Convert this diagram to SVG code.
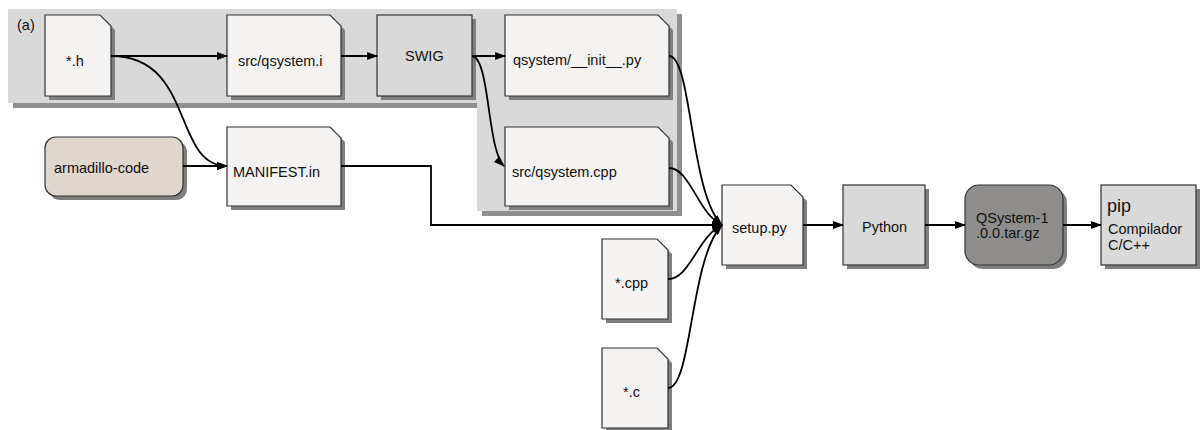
<svg xmlns="http://www.w3.org/2000/svg" width="1200" height="430" viewBox="0 0 1200 430">
<style>
text{font-family:"Liberation Sans",Arial,sans-serif;font-size:14.5px;fill:#111}
.sh{fill:#7f7f7f;stroke:none}
.doc{fill:#f4f3f1;stroke:#333;stroke-width:1.2}
.proc{fill:#d9d9d9;stroke:#333;stroke-width:1.2}
.edge{fill:none;stroke:#000;stroke-width:1.8}
</style>
<defs>
<marker id="ah" markerUnits="userSpaceOnUse" markerWidth="11" markerHeight="8" refX="10" refY="4" orient="auto">
<path d="M0,0 L11,4 L0,8 z" fill="#000"/>
</marker>
</defs>
<g id="group-a">
<path d="M13,14 H682 V216 H482 V108 H13 Z" fill="#8f8f8f"/>
<path d="M8,9 H677 V211 H477 V103 H8 Z" fill="#d9d9d9"/>
<text x="17" y="30">(a)</text>
</g>
<g id="n-h">
<path class="sh" d="M49,19 H104 L115,30 V100 H49 Z"/>
<path class="doc" d="M45,15 H100 L111,26 V96 H45 Z"/>
<text x="66" y="66">*.h</text>
</g>
<g id="n-qsi">
<path class="sh" d="M231,19 H334 L345,30 V100 H231 Z"/>
<path class="doc" d="M227,15 H330 L341,26 V96 H227 Z"/>
<text x="238" y="66">src/qsystem.i</text>
</g>
<g id="n-swig">
<rect class="sh" x="381" y="19" width="95" height="81"/>
<rect class="proc" x="377" y="15" width="95" height="81"/>
<text x="405" y="61">SWIG</text>
</g>
<g id="n-init">
<path class="sh" d="M509,19 H662 L673,30 V100 H509 Z"/>
<path class="doc" d="M505,15 H658 L669,26 V96 H505 Z"/>
<text x="513" y="65">qsystem/__init__.py</text>
</g>
<g id="n-cpp2">
<path class="sh" d="M509,131 H662 L673,142 V210 H509 Z"/>
<path class="doc" d="M505,127 H658 L669,138 V206 H505 Z"/>
<text x="512" y="177">src/qsystem.cpp</text>
</g>
<g id="n-arma">
<rect class="sh" x="49" y="141" width="138" height="59" rx="11"/>
<rect x="45" y="137" width="138" height="59" rx="11" fill="#dfd6cc" stroke="#333" stroke-width="1.2"/>
<text x="54" y="173">armadillo-code</text>
</g>
<g id="n-manifest">
<path class="sh" d="M231,131 H334 L345,142 V210 H231 Z"/>
<path class="doc" d="M227,127 H330 L341,138 V206 H227 Z"/>
<text x="233" y="177">MANIFEST.in</text>
</g>
<g id="n-setup">
<path class="sh" d="M726,189 H795 L807,201 V269 H726 Z"/>
<path class="doc" d="M722,185 H791 L803,197 V265 H722 Z"/>
<text x="732" y="233">setup.py</text>
</g>
<g id="n-python">
<rect class="sh" x="847" y="189" width="82" height="80"/>
<rect class="proc" x="843" y="185" width="82" height="80"/>
<text x="862" y="232">Python</text>
</g>
<g id="n-qsystem">
<rect class="sh" x="969" y="189" width="98" height="80" rx="14"/>
<rect x="965" y="185" width="98" height="80" rx="14" fill="#8e8d8b" stroke="#333" stroke-width="1.2"/>
<text x="976" y="223">QSystem-1</text>
<text x="976" y="238">.0.0.tar.gz</text>
</g>
<g id="n-pip">
<rect class="sh" x="1105" y="189" width="95" height="80"/>
<rect class="proc" x="1101" y="185" width="95" height="80"/>
<text x="1107" y="212" style="font-size:18px">pip</text>
<text x="1108" y="234">Compilador</text>
<text x="1108" y="250">C/C++</text>
</g>
<g id="n-cpp">
<path class="sh" d="M606,243 H661 L672,254 V323 H606 Z"/>
<path class="doc" d="M602,239 H657 L668,250 V319 H602 Z"/>
<text x="615" y="288">*.cpp</text>
</g>
<g id="n-c">
<path class="sh" d="M606,352 H661 L672,363 V432 H606 Z"/>
<path class="doc" d="M602,348 H657 L668,359 V428 H602 Z"/>
<text x="623" y="397">*.c</text>
</g>
<g id="connectors">
<path class="edge" marker-end="url(#ah)" d="M111,56 H227"/>
<path class="edge" marker-end="url(#ah)" d="M341,56 H377"/>
<path class="edge" marker-end="url(#ah)" d="M472,56 H505"/>
<path class="edge" marker-end="url(#ah)" d="M472,56 C490,58 487,150 504,166"/>
<path class="edge" marker-end="url(#ah)" d="M111,56 C195,56 172,166 227,166"/>
<path class="edge" marker-end="url(#ah)" d="M183,166 H227"/>
<path class="edge" marker-end="url(#ah)" d="M341,166 H431 V225 H722"/>
<path class="edge" marker-end="url(#ah)" d="M669,56 C692,56 690,195 722,225"/>
<path class="edge" marker-end="url(#ah)" d="M669,168 C690,168 698,214 722,225"/>
<path class="edge" marker-end="url(#ah)" d="M668,279 C690,279 698,236 722,225"/>
<path class="edge" marker-end="url(#ah)" d="M668,388 C692,388 690,258 722,225"/>
<path class="edge" marker-end="url(#ah)" d="M803,225 H843"/>
<path class="edge" marker-end="url(#ah)" d="M925,225 H965"/>
<path class="edge" marker-end="url(#ah)" d="M1063,225 H1101"/>
</g>
</svg>
